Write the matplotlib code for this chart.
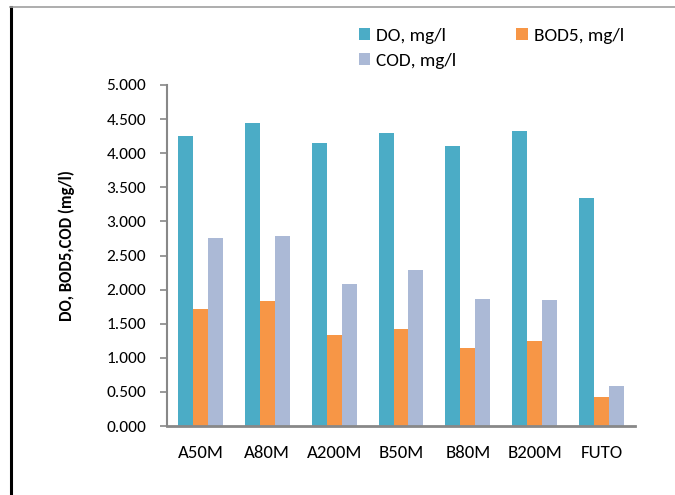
import matplotlib
matplotlib.use("Agg")
import matplotlib.pyplot as plt
import numpy as np
from matplotlib.patches import Patch
from matplotlib.lines import Line2D

plt.rcParams['font.family'] = ['Carlito', 'Lato', 'DejaVu Sans']

categories = ["A50M", "A80M", "A200M", "B50M", "B80M", "B200M", "FUTO"]
do_vals = [4.25, 4.45, 4.15, 4.30, 4.10, 4.33, 3.35]
bod_vals = [1.71, 1.83, 1.33, 1.42, 1.15, 1.25, 0.43]
cod_vals = [2.76, 2.78, 2.08, 2.29, 1.86, 1.85, 0.59]
series_names = ["DO, mg/l", "BOD5, mg/l", "COD, mg/l"]
colors = ["#4BACC6", "#F79646", "#ABB9D6"]
yticks = [0, 0.5, 1, 1.5, 2, 2.5, 3, 3.5, 4, 4.5, 5]

fig = plt.figure(figsize=(6.75, 4.95), dpi=100)
ax = fig.add_axes([167/675, 1-426/495, (635-167)/675, (426-85)/495])

x = np.arange(len(categories))
w = 0.224
for i, (vals, c) in enumerate(zip([do_vals, bod_vals, cod_vals], colors)):
    ax.bar(x + (i - 1) * w, vals, width=w, color=c, edgecolor='none', zorder=2)

ax.set_xlim(-0.5, len(categories) - 0.5)
ax.set_ylim(0, 5)
ax.set_yticks(yticks)
ax.set_yticklabels([f"{v:.3f}" for v in yticks])
ax.set_xticks(x)
ax.set_xticklabels(categories)

for s in ['top', 'right']:
    ax.spines[s].set_visible(False)
for s in ['left', 'bottom']:
    ax.spines[s].set_color('#888888')
    ax.spines[s].set_linewidth(1.5)
ax.spines['bottom'].set_linewidth(2)

ax.tick_params(axis='y', length=5, width=1.2, color='#888888', pad=10, labelsize=12.5)
ax.tick_params(axis='x', length=0, pad=14, labelsize=13.5)
ax.set_ylabel("DO, BOD5,COD (mg/l)", fontsize=12, fontweight='bold')
ax.yaxis.set_label_coords(-(167-75)/468, (426-246)/341)

handles = [Patch(facecolor=colors[0]), Patch(facecolor=colors[2]), Patch(facecolor=colors[1])]
labels = [series_names[0], series_names[2], series_names[1]]
fig.legend(handles, labels, ncol=2, loc='upper left', bbox_to_anchor=(359/675, 1-28/495),
           frameon=False, fontsize=13.9, handlelength=0.58, handleheight=0.58,
           handletextpad=0.32, columnspacing=3.1, labelspacing=0.45, borderpad=0,
           borderaxespad=0)

fig.add_artist(Line2D([11/675, 11/675], [0, 1-7/495], color='black', linewidth=2.2,
                      transform=fig.transFigure))
fig.add_artist(Line2D([10/675, 1], [1-7/495, 1-7/495], color='#A0A0A0', linewidth=1.2,
                      transform=fig.transFigure))

fig.savefig("out.png", dpi=100)
